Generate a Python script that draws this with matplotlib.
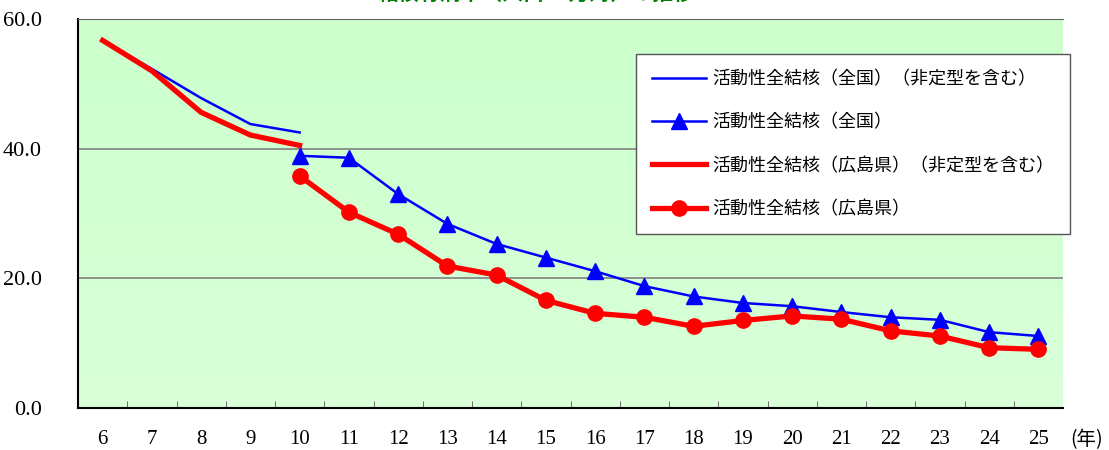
import numpy as np
import matplotlib
matplotlib.use("Agg")
import matplotlib.pyplot as plt
from matplotlib.colors import LinearSegmentedColormap

# data
years = ["6", "7", "8", "9", "10", "11", "12", "13", "14", "15",
         "16", "17", "18", "19", "20", "21", "22", "23", "24", "25"]
old_years = ["6", "7", "8", "9", "10"]
new_years = years[4:]

zenkoku_old = [56.7, 52.3, 47.8, 43.8, 42.5]
hiroshima_old = [56.7, 52.0, 45.6, 42.1, 40.5]
zenkoku_new = [38.9, 38.6, 33.0, 28.4, 25.3, 23.2, 21.1, 18.8, 17.2, 16.2,
               15.7, 14.8, 14.0, 13.6, 11.7, 11.1]
hiroshima_new = [35.8, 30.2, 26.8, 21.9, 20.5, 16.6, 14.6, 14.0, 12.6, 13.5,
                 14.2, 13.7, 11.9, 11.1, 9.3, 9.05]

labels = ["活動性全結核（全国）（非定型を含む）",
          "活動性全結核（全国）",
          "活動性全結核（広島県）（非定型を含む）",
          "活動性全結核（広島県）"]

jp_font = ["Noto Sans CJK JP", "DejaVu Sans"]
num_font = "Liberation Serif"

fig = plt.figure(figsize=(11.09, 4.5), dpi=100)
ax = fig.add_axes([78 / 1109, 42 / 450, 985 / 1109, 389 / 450])

xpos = {y: i for i, y in enumerate(years)}
x_old = [xpos[y] for y in old_years]
x_new = [xpos[y] for y in new_years]

# gradient background
cmap = LinearSegmentedColormap.from_list("bg", ["#d9ffd9", "#ccffcc"])
grad = np.linspace(0, 1, 256).reshape(-1, 1)
ax.imshow(grad, cmap=cmap, aspect="auto", origin="lower",
          extent=[-0.5, len(years) - 0.5, 0, 60], zorder=0)

for v in [20, 40]:
    ax.axhline(v, color="#808080", lw=1.2, zorder=1)

ax.plot(x_old, zenkoku_old, color="#0000ff", lw=1.8, zorder=3, label=labels[0])
ax.plot(x_new, zenkoku_new, color="#0000ff", lw=1.8, marker="^", ms=12,
        zorder=4, label=labels[1])
ax.plot(x_old, hiroshima_old, color="#ff0000", lw=3.8, zorder=3, label=labels[2])
ax.plot(x_new, hiroshima_new, color="#ff0000", lw=3.8, marker="o", ms=11,
        zorder=5, label=labels[3])

ax.set_xlim(-0.5, len(years) - 0.5)
ax.set_ylim(0, 60)
ax.set_xticks(range(len(years)))
ax.set_xticklabels(years, fontfamily=num_font, fontsize=15)
ax.set_xticks(np.arange(0.5, len(years) - 0.5, 1), minor=True)
ax.tick_params(axis="x", which="major", length=0, pad=16)
ax.tick_params(axis="x", which="minor", length=5, direction="in", color="#555555")
ax.set_yticks([0, 20, 40, 60])
ax.set_yticklabels(["0.0", "20.0", "40.0", "60.0"], fontfamily=num_font, fontsize=16)
ax.tick_params(axis="y", length=0, pad=26)

ax.spines["left"].set_color("black")
ax.spines["bottom"].set_color("black")
ax.spines["left"].set_linewidth(1.5)
ax.spines["bottom"].set_linewidth(1.5)
ax.spines["top"].set_color("#666666")
ax.spines["right"].set_visible(False)

leg = ax.legend(loc="upper left", bbox_to_anchor=(558 / 985, (408 - 54) / 389),
                prop={"family": jp_font, "size": 13}, frameon=True,
                fancybox=False, edgecolor="#555555", framealpha=1,
                labelspacing=1.4, handlelength=3.0, borderpad=0.9,
                handletextpad=0.3, borderaxespad=0)
leg.get_frame().set_linewidth(1.0)

fig.text(1087 / 1109, 1 - 440 / 450, "(年)", family=jp_font, fontsize=14,
         ha="center", va="center")
fig.text(536 / 1109, 1 - 4 / 450, "結核有病率（人口10万対）の推移", family=jp_font,
         fontsize=15, fontweight="bold", color="#008000", ha="center", va="bottom")

fig.savefig("out.png", dpi=100)
